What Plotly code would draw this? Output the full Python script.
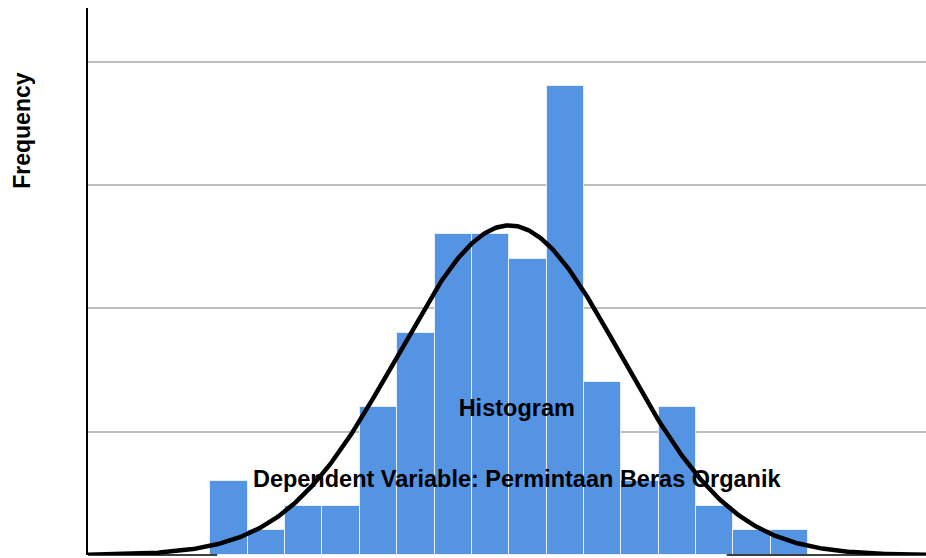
import numpy as np
import plotly.graph_objects as go

# Histogram data (regression standardized residual bins)
counts = [3, 1, 2, 2, 6, 9, 13, 13, 12, 19, 7, 3, 6, 2, 1, 1]
bin_start = -2.64
bin_width = 0.33
# Normal curve parameters
mean_val = 0.0
std_dev = 0.985
n_obs = 100

title_main = "Histogram"
title_sub = "Dependent Variable: Permintaan Beras Organik"
y_title = "Frequency"
grid_vals = [5, 10, 15, 20]

centers = [bin_start + (i + 0.5) * bin_width for i in range(len(counts))]

x_min, x_max = -3.72, 3.68
xc = np.linspace(x_min, x_max, 600)
yc = n_obs * bin_width / (std_dev * np.sqrt(2 * np.pi)) * np.exp(-0.5 * ((xc - mean_val) / std_dev) ** 2)

font_fam = "Liberation Sans, Arial, sans-serif"

fig = go.Figure()
fig.add_trace(go.Bar(
    x=centers, y=counts, width=bin_width,
    marker=dict(color="#5594e3", line=dict(color="#e6eefa", width=1)),
    showlegend=False, hoverinfo="skip",
))
fig.add_trace(go.Scatter(
    x=[0.066, 0.066], y=[5.86, 3.0], mode="text",
    text=["<b>" + title_main + "</b>", "<b>" + title_sub + "</b>"],
    textfont=dict(family=font_fam, size=23.5, color="black"),
    showlegend=False, hoverinfo="skip",
))
fig.add_trace(go.Scatter(
    x=xc, y=yc, mode="lines",
    line=dict(color="black", width=4.5),
    showlegend=False, hoverinfo="skip",
))

fig.update_layout(
    width=926, height=558,
    margin=dict(l=88, r=0, t=8, b=3),
    paper_bgcolor="white", plot_bgcolor="white",
    bargap=0,
    xaxis=dict(range=[x_min, x_max], showgrid=False, zeroline=False,
               showticklabels=False, showline=False, ticks=""),
    yaxis=dict(range=[0, 22.18], tickvals=grid_vals, showgrid=True,
               gridcolor="#bdbdbd", gridwidth=1.5, zeroline=False,
               showticklabels=False, showline=True, linecolor="black",
               linewidth=1.5, ticks=""),
    shapes=[
        dict(type="line", xref="x", yref="paper", x0=x_min, x1=-2.58, y0=0, y1=0,
             line=dict(color="black", width=1.5), layer="above"),
        dict(type="line", xref="x", yref="paper", x0=1.92, x1=x_max, y0=0, y1=0,
             line=dict(color="black", width=1.5), layer="above"),
    ],
    annotations=[
        dict(text="<b>" + y_title + "</b>", textangle=-90, xref="paper", yref="paper",
             x=-0.079, y=0.777, xanchor="center", yanchor="middle", showarrow=False,
             font=dict(family=font_fam, size=23, color="black")),
    ],
)

fig.write_html("out.html", config={"displayModeBar": False},
               post_script="document.body.style.margin='0';document.body.style.overflow='hidden';")
